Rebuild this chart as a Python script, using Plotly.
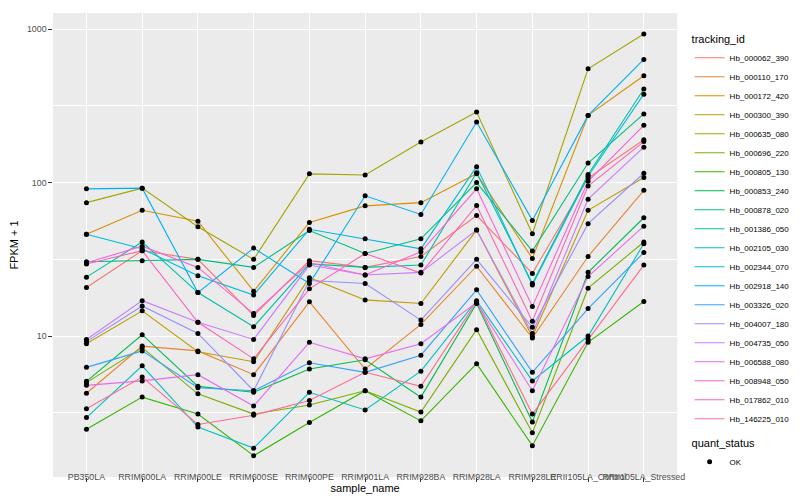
import plotly.graph_objects as go

samples = ["PB350LA", "RRIM600LA", "RRIM600LE", "RRIM600SE", "RRIM600PE", "RRIM901LA",
           "RRIM928BA", "RRIM928LA", "RRIM928LE", "RRII105LA_Control", "RRII105LA_Stressed"]

tracking_ids = ["Hb_000062_390", "Hb_000110_170", "Hb_000172_420", "Hb_000300_390",
                "Hb_000635_080", "Hb_000696_220", "Hb_000805_130", "Hb_000853_240",
                "Hb_000878_020", "Hb_001386_050", "Hb_002105_030", "Hb_002344_070",
                "Hb_002918_140", "Hb_003326_020", "Hb_004007_180", "Hb_004735_050",
                "Hb_006588_080", "Hb_008948_050", "Hb_017862_010", "Hb_146225_010"]

colors = ["#F8766D", "#EA8331", "#D89000", "#C09B00", "#A3A500", "#7CAE00", "#39B600",
          "#00BB4E", "#00BF7D", "#00C1A3", "#00BFC4", "#00BAE0", "#00B0F6", "#35A2FF",
          "#9590FF", "#C77CFF", "#E76BF3", "#FA62DB", "#FF62BC", "#FF6C91"]

# FPKM + 1 per sample
Hb_000062_390 = [20.7, 36, 31.6, 13.6, 31, 28, 33, 61, 25.6, 107, 190]
Hb_000110_170 = [4.24, 8.6, 8.0, 5.6, 16.7, 6.1, 11.9, 28.5, 9.7, 33, 89]
Hb_000172_420 = [46, 66, 56, 19.6, 55, 70.5, 74, 114, 32, 274, 497]
Hb_000300_390 = [8.9, 14.6, 7.9, 6.8, 24, 17.2, 16.3, 49, 9.9, 66, 108]
Hb_000635_080 = [74, 92, 51.5, 31.6, 114, 112, 184, 288, 46.4, 551, 928]
Hb_000696_220 = [4.97, 8.4, 4.2, 3.1, 3.55, 4.4, 3.2, 11, 2.34, 20.5, 41]
Hb_000805_130 = [2.47, 4.0, 3.1, 1.66, 2.73, 4.4, 2.8, 6.6, 1.93, 9.1, 16.8]
Hb_000853_240 = [5.07, 10.2, 4.7, 4.3, 6.1, 7.0, 4.0, 16.3, 2.75, 26, 59]
Hb_000878_020 = [30.5, 31, 31.6, 28, 48.7, 34.5, 43, 100, 35.8, 134, 280]
Hb_001386_050 = [24.2, 41, 19.2, 11.5, 29.5, 28, 29, 116, 22, 113, 407]
Hb_002105_030 = [2.94, 6.4, 2.55, 1.86, 4.3, 3.3, 5.9, 17, 5.1, 10, 40]
Hb_002344_070 = [46, 37, 24.7, 18.5, 49.6, 43, 37, 127, 21.5, 110, 377]
Hb_002918_140 = [91, 92, 19.2, 37.4, 22, 82, 62, 248, 56.7, 274, 635]
Hb_003326_020 = [6.25, 8.0, 4.6, 4.4, 6.7, 5.8, 7.5, 20, 5.8, 15.1, 35]
Hb_004007_180 = [9.2, 15.7, 10.4, 4.4, 23, 22, 12.7, 31.6, 11.4, 54, 115]
Hb_004735_050 = [9.5, 17, 12.3, 9.5, 29, 25, 26, 49, 10.4, 78, 170]
Hb_006588_080 = [4.77, 5.1, 5.6, 3.5, 9.1, 7.1, 8.9, 16.5, 4.4, 24.4, 52]
Hb_008948_050 = [30, 38.5, 28, 14.0, 30, 25, 35.4, 91, 15.6, 102, 236]
Hb_017862_010 = [29.5, 36, 12.3, 7.1, 20.3, 34.5, 25.7, 71, 12.5, 95, 185]
Hb_146225_010 = [3.36, 5.4, 2.65, 3.05, 3.8, 5.8, 4.7, 16.7, 3.1, 9.5, 29]

series = [Hb_000062_390, Hb_000110_170, Hb_000172_420, Hb_000300_390, Hb_000635_080,
          Hb_000696_220, Hb_000805_130, Hb_000853_240, Hb_000878_020, Hb_001386_050,
          Hb_002105_030, Hb_002344_070, Hb_002918_140, Hb_003326_020, Hb_004007_180,
          Hb_004735_050, Hb_006588_080, Hb_008948_050, Hb_017862_010, Hb_146225_010]

y_ticks = [10, 100, 1000]
y_ticktext = ["10", "100", "1000"]
y_minor = [10 ** 0.5, 10 ** 1.5, 10 ** 2.5]

FONT = "Liberation Sans, Arial, Helvetica, sans-serif"

fig = go.Figure()
for name, vals, col in zip(tracking_ids, series, colors):
    fig.add_trace(go.Scatter(x=samples, y=vals, mode="lines", name=name,
                             line=dict(color=col, width=1.1), legend="legend"))

all_x = [s for vals in series for s in samples]
all_y = [v for vals in series for v in vals]
fig.add_trace(go.Scatter(x=all_x, y=all_y, mode="markers", name="OK",
                         marker=dict(color="black", size=5, symbol="circle"),
                         legend="legend2"))

fig.update_layout(
    width=800, height=500,
    margin=dict(l=45, r=110, t=5, b=31, pad=0),
    plot_bgcolor="#EBEBEB", paper_bgcolor="white",
    font=dict(family=FONT, color="black"),
    legend=dict(title=dict(text="tracking_id", font=dict(size=11, color="black")),
                font=dict(size=8, color="black"),
                xref="container", yref="container", x=0.852, y=0.958,
                xanchor="left", yanchor="top", bgcolor="rgba(0,0,0,0)",
                itemwidth=30, tracegroupgap=0, maxheight=480),
    legend2=dict(title=dict(text="quant_status", font=dict(size=11, color="black")),
                 font=dict(size=8, color="black"),
                 xref="container", yref="container", x=0.852, y=0.15,
                 xanchor="left", yanchor="top", bgcolor="rgba(0,0,0,0)",
                 itemwidth=30),
    showlegend=True,
)

fig.update_xaxes(type="category", categoryorder="array", categoryarray=samples,
                 range=[-0.6, len(samples) - 0.4],
                 showgrid=True, gridcolor="white", gridwidth=1.1,
                 ticks="outside", ticklen=3.7, tickwidth=1.1, tickcolor="#333333",
                 tickfont=dict(size=8.8, color="#4D4D4D"), tickangle=0,
                 ticklabelstandoff=-12,
                 zeroline=False, showline=False,
                 title=dict(text="sample_name", font=dict(size=11, color="black"), standoff=0))

fig.update_yaxes(type="log", range=[0.0814, 3.105],
                 tickvals=y_ticks, ticktext=y_ticktext,
                 showgrid=True, gridcolor="white", gridwidth=1.1,
                 minor=dict(tickvals=y_minor, showgrid=True, gridcolor="white",
                            gridwidth=0.55, ticks=""),
                 ticks="outside", ticklen=3.7, tickwidth=1.1, tickcolor="#333333",
                 tickfont=dict(size=8.8, color="#4D4D4D"),
                 zeroline=False, showline=False,
                 title=dict(text="FPKM + 1", font=dict(size=11, color="black"), standoff=6))

fig.write_html("out.html")
